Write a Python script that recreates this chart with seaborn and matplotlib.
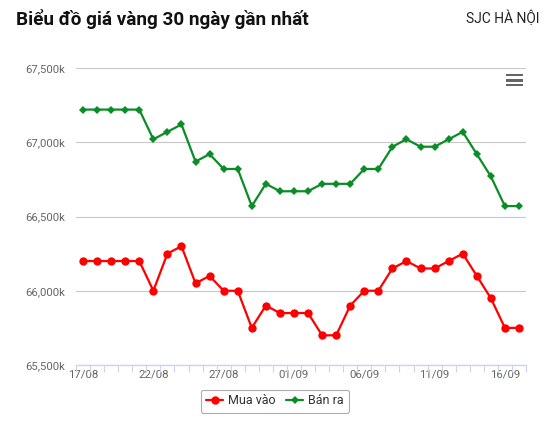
import matplotlib
matplotlib.use("Agg")
import matplotlib.pyplot as plt
import seaborn as sns
import numpy as np
import pandas as pd
from matplotlib.ticker import FuncFormatter, FixedLocator
from matplotlib.lines import Line2D
from matplotlib.patches import Rectangle

dates = ["17/08", "18/08", "19/08", "20/08", "21/08", "22/08", "23/08", "24/08",
         "25/08", "26/08", "27/08", "28/08", "29/08", "30/08", "31/08", "01/09",
         "02/09", "03/09", "04/09", "05/09", "06/09", "07/09", "08/09", "09/09",
         "10/09", "11/09", "12/09", "13/09", "14/09", "15/09", "16/09", "17/09"]

mua_vao = [66200, 66200, 66200, 66200, 66200, 66000, 66250, 66300,
           66050, 66100, 66000, 66000, 65750, 65900, 65850, 65850,
           65850, 65700, 65700, 65900, 66000, 66000, 66150, 66200,
           66150, 66150, 66200, 66250, 66100, 65950, 65750, 65750]

ban_ra = [67220, 67220, 67220, 67220, 67220, 67020, 67070, 67120,
          66870, 66920, 66820, 66820, 66570, 66720, 66670, 66670,
          66670, 66720, 66720, 66720, 66820, 66820, 66970, 67020,
          66970, 66970, 67020, 67070, 66920, 66770, 66570, 66570]

y_ticks = [65500, 66000, 66500, 67000, 67500]
label_step = 5

title = "Biểu đồ giá vàng 30 ngày gần nhất"
subtitle = "SJC HÀ NỘI"
series_names = ["Mua vào", "Bán ra"]

sns.set_theme(style="white")
plt.rcParams["font.family"] = ["Roboto", "DejaVu Sans"]

W, H = 553, 422
fig = plt.figure(figsize=(W / 100, H / 100), dpi=100)
ax = fig.add_axes([76 / W, 1 - 365 / H, (526 - 76) / W, (365 - 68) / H])

df = pd.DataFrame({"idx": np.arange(len(dates)), "date": dates,
                   "mua": mua_vao, "ban": ban_ra})

red = "#ff0000"
green = "#0a8c26"

sns.lineplot(data=df, x="idx", y="ban", ax=ax, color=green, linewidth=1.6,
             marker="D", markersize=4.2, markeredgewidth=0, zorder=3)
sns.lineplot(data=df, x="idx", y="mua", ax=ax, color=red, linewidth=1.6,
             marker="o", markersize=6, markeredgewidth=0, zorder=3)

ax.set_xlim(-0.5, len(dates) - 0.5)
ax.set_ylim(y_ticks[0], y_ticks[-1])
ax.set_xlabel("")
ax.set_ylabel("")

# y axis
ax.set_yticks(y_ticks)
ax.yaxis.set_major_formatter(FuncFormatter(lambda v, p: f"{int(v):,}k"))
ax.tick_params(axis="y", length=0, pad=8, labelsize=8.2, labelcolor="#666666")
ax.grid(axis="y", color="#c8c8c8", linewidth=0.8, zorder=0)
ax.grid(axis="x", visible=False)
ax.set_axisbelow(True)

# x axis
label_pos = list(range(0, len(dates), label_step))
ax.set_xticks(label_pos)
ax.set_xticklabels([dates[i] for i in label_pos])
ax.xaxis.set_minor_locator(FixedLocator(np.arange(-0.5, len(dates), 1.0)))
ax.tick_params(axis="x", which="major", length=0, pad=3, labelsize=8.2, labelcolor="#666666")
ax.tick_params(axis="x", which="minor", length=5, width=0.8, color="#ccd6eb", direction="out")
ax.tick_params(axis="x", which="both", bottom=True)

for s in ["top", "right", "left"]:
    ax.spines[s].set_visible(False)
ax.spines["bottom"].set_color("#ccd6eb")
ax.spines["bottom"].set_linewidth(1.0)
ax.spines["bottom"].set_zorder(4)

# title texts
fig.text(16 / W, 1 - 19 / H, title, fontsize=13.6, fontweight="bold",
         color="#111111", va="center", ha="left")
fig.text(540 / W, 1 - 18 / H, subtitle, fontsize=10, color="#222222",
         va="center", ha="right")

# legend
handles = [
    Line2D([0], [0], color=red, linewidth=1.6, marker="o", markersize=6, markeredgewidth=0),
    Line2D([0], [0], color=green, linewidth=1.6, marker="D", markersize=4.2, markeredgewidth=0),
]
leg = fig.legend(handles, series_names, loc="center", bbox_to_anchor=(275 / W, 1 - 401 / H),
                 ncol=2, frameon=True, fancybox=True, edgecolor="#999999",
                 fontsize=9, handlelength=1.4, handletextpad=0.4, columnspacing=0.8,
                 borderpad=0.4, labelcolor="#333333")
leg.get_frame().set_linewidth(0.8)

# export menu icon
for yy in (74, 79.3, 84):
    fig.add_artist(Rectangle((506 / W, 1 - (yy + 2.3) / H), 17 / W, 2.3 / H,
                             transform=fig.transFigure, color="#666666", lw=0))

fig.savefig("out.png", dpi=100)
